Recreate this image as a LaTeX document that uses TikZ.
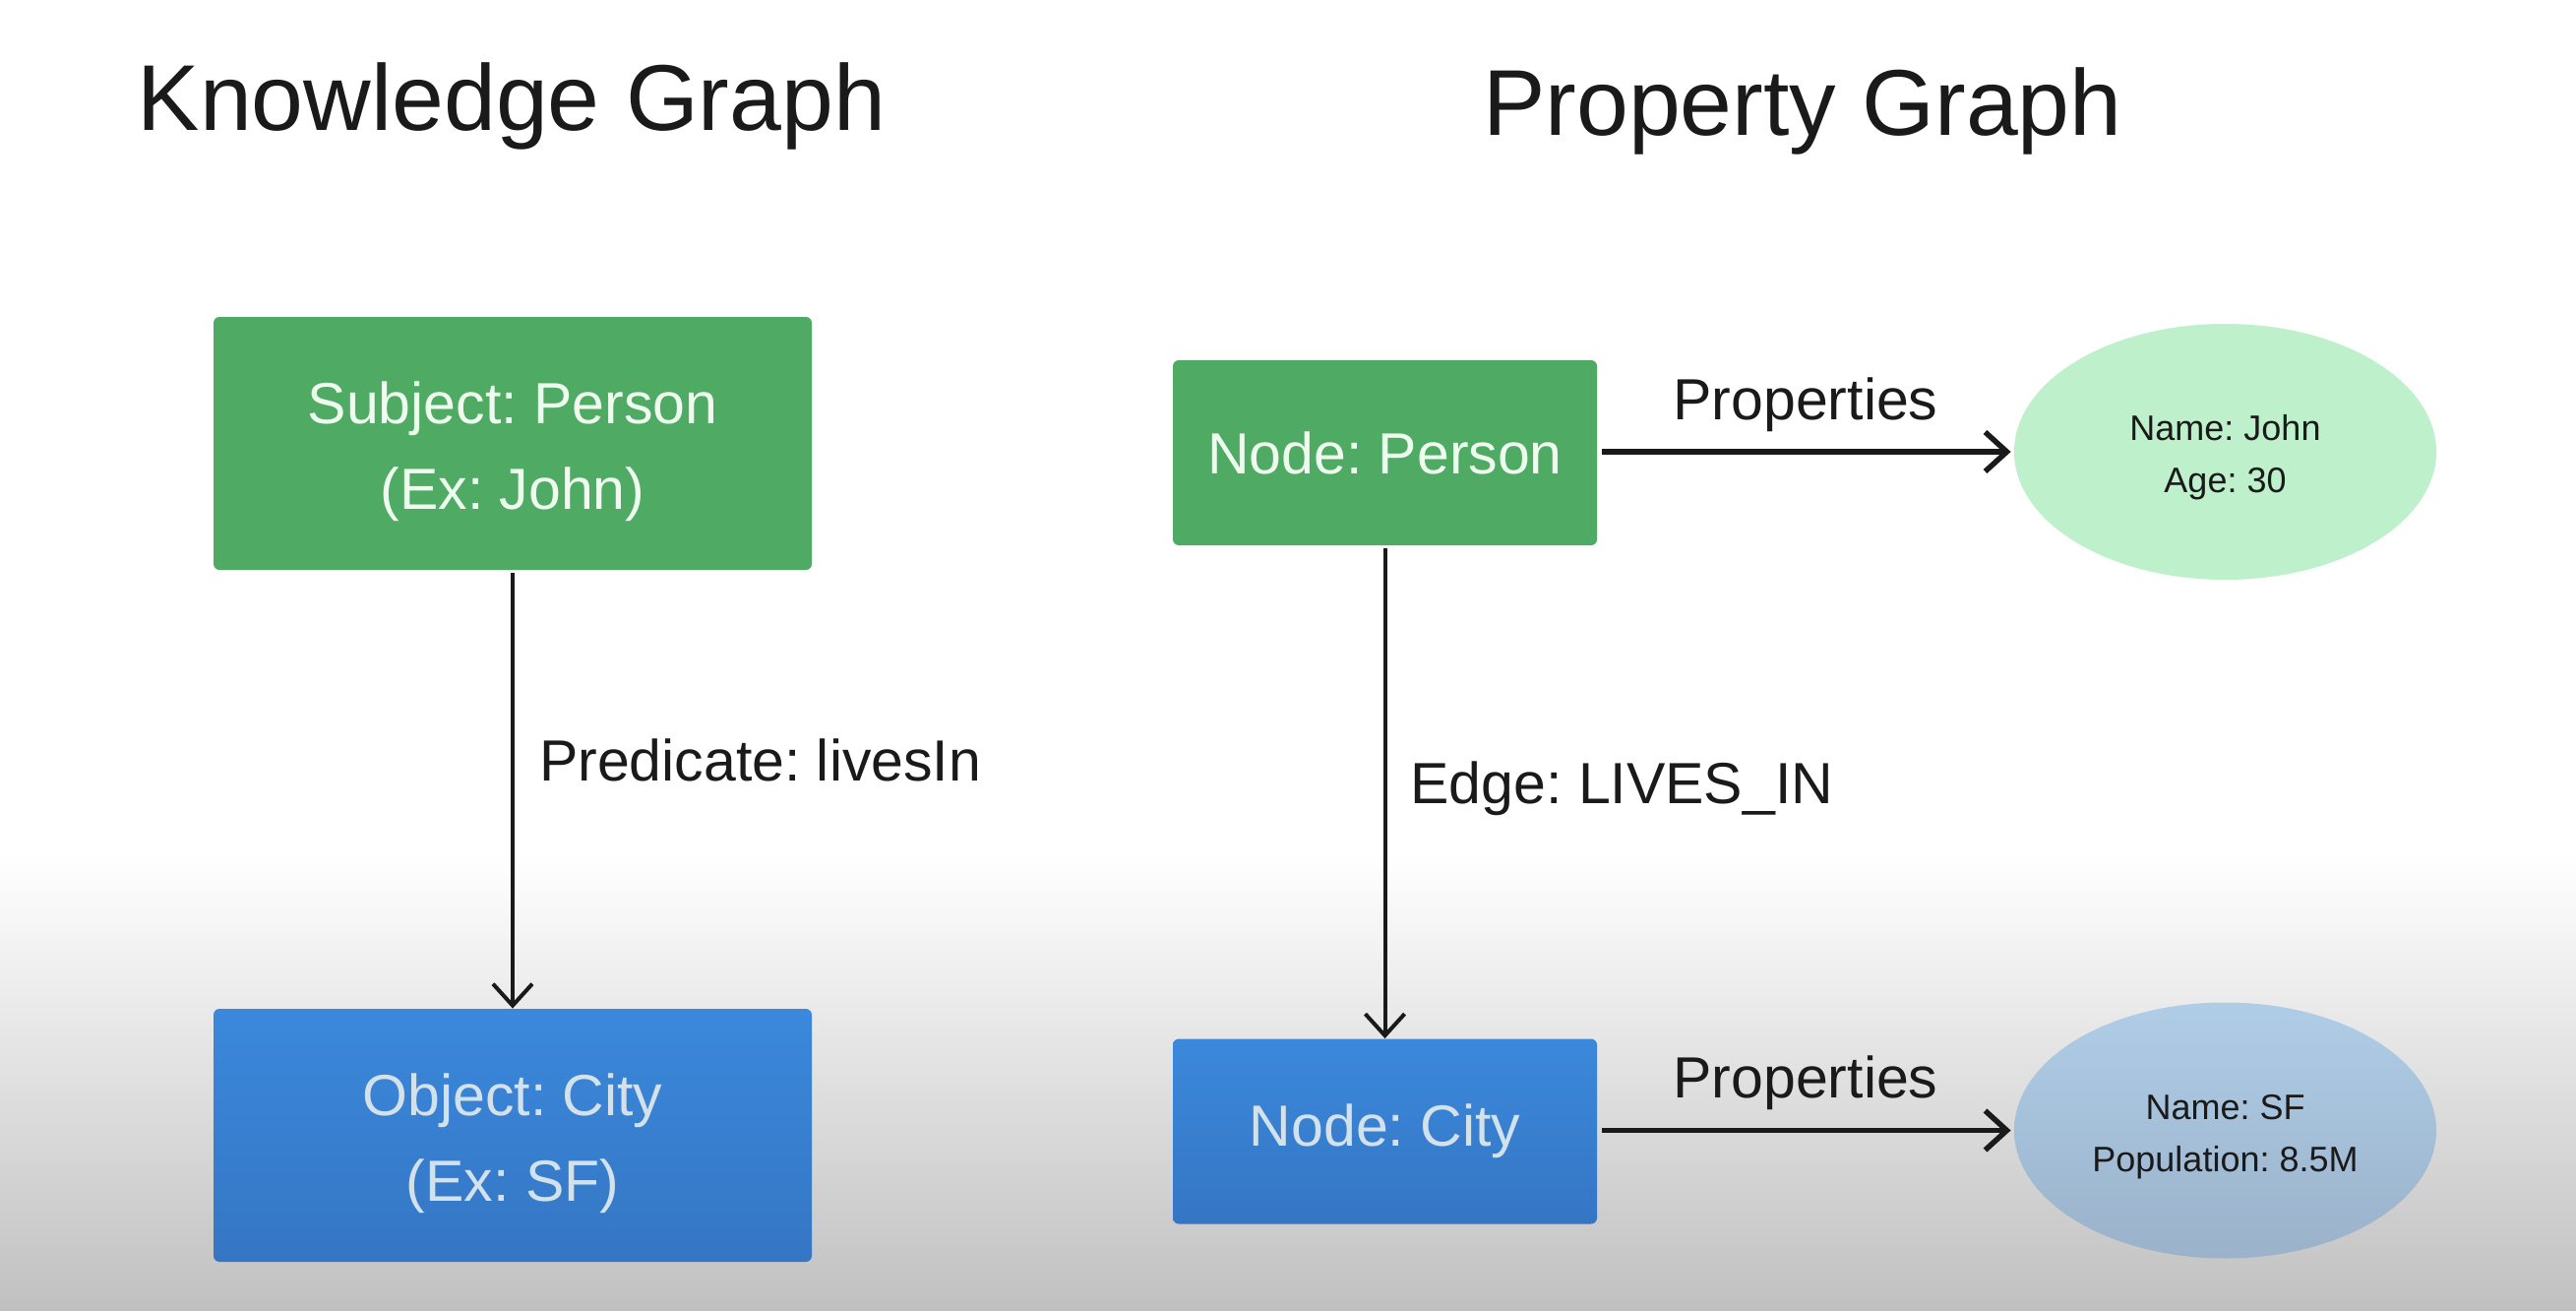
\documentclass[tikz,border=0pt]{standalone}
\usepackage{fontspec}
\setmainfont{Liberation Sans}
\usetikzlibrary{arrows.meta,shapes.geometric}
\frenchspacing
\definecolor{ink}{HTML}{1A1A1A}
\definecolor{greenbox}{HTML}{4FAB63}
\definecolor{greentext}{HTML}{EEFCEF}
\definecolor{bluetop}{HTML}{3B88DC}
\definecolor{bluebot}{HTML}{3576C4}
\definecolor{bluetext}{HTML}{D3E1EA}
\definecolor{ellgreen}{HTML}{BDF0CB}
\definecolor{elltop}{HTML}{B0CDE7}
\definecolor{ellbot}{HTML}{9AB2CA}
\definecolor{bggray}{HTML}{C0C0C0}
\tikzset{
  x=0.5pt, y=-0.5pt,
  title/.style={font=\fontsize{47.5}{57}\selectfont, text=ink, inner sep=0pt},
  gbox/.style={rectangle, rounded corners=3pt, fill=greenbox, text=greentext,
    font=\fontsize{29.5}{43.5}\selectfont, align=center, inner sep=0pt},
  bbox/.style={rectangle, rounded corners=3pt, top color=bluetop, bottom color=bluebot,
    text=bluetext, font=\fontsize{29.5}{43.5}\selectfont, align=center, inner sep=0pt},
  prop/.style={ellipse, inner sep=0pt, minimum width=214.5pt, minimum height=130pt,
    text=ink, font=\fontsize{18}{26.5}\selectfont, align=center},
  conn/.style={draw=ink, line width=2pt, -{Straight Barb[length=11pt,width=20pt,line width=2pt]}},
  pconn/.style={draw=ink, line width=2.75pt, -{Straight Barb[length=11pt,width=20pt,line width=2.75pt]}},
  lbl/.style={font=\fontsize{29.5}{35}\selectfont, text=ink, inner sep=0pt},
}
\begin{document}
\begin{tikzpicture}
\useasboundingbox (0,0) rectangle (2618,1332);
\fill[white] (0,0) rectangle (2618,870);
\shade[top color=white, bottom color=bggray] (0,869) rectangle (2618,1332);

% titles
\node[title] (t1) at (520,108) {Knowledge Graph};
\node[title] (t2) at (1832,113) {Property Graph};

% knowledge graph
\node[gbox, minimum width=304pt, minimum height=128.5pt] (subj) at (521,450.5) {\rule{0pt}{5pt}\\[-19pt]Subject: Person\\(Ex: John)};
\node[bbox, minimum width=304pt, minimum height=128.5pt] (obj) at (521,1153.5) {\rule{0pt}{5pt}\\[-19pt]Object: City\\(Ex: SF)};
\draw[conn] (subj.south) ++(0,3) coordinate (s1) -- (obj.north)
  node[lbl, pos=0.43, anchor=west, xshift=12.5pt] (pred) {Predicate: livesIn};

% property graph
\node[gbox, minimum width=215.5pt, minimum height=94pt] (np) at (1407.5,460) {Node: Person};
\node[bbox, minimum width=215.5pt, minimum height=94pt] (nc) at (1407.5,1149.5) {Node: City};
\node[prop, fill=ellgreen] (e1) at (2261.5,459) {\rule{0pt}{3pt}\\[-10.5pt]Name: John\\Age: 30};
\node[prop, top color=elltop, bottom color=ellbot] (e2) at (2261.5,1148.5) {\rule{0pt}{3pt}\\[-10.5pt]Name: SF\\Population: 8.5M};

\draw[conn] (np.south) ++(0,3) coordinate (s2) -- (nc.north)
  node[lbl, pos=0.49, anchor=west, xshift=12pt] (edge) {Edge: LIVES\_IN};
\draw[pconn, shorten <=2.5pt, shorten >=1.5pt] (np.east |- e1.west) -- (e1.west)
  node[lbl, midway, yshift=24pt] (p1) {Properties};
\draw[pconn, shorten <=2.5pt, shorten >=1.5pt] (nc.east |- e2.west) -- (e2.west)
  node[lbl, midway, yshift=24pt] (p2) {Properties};
\end{tikzpicture}
\end{document}
